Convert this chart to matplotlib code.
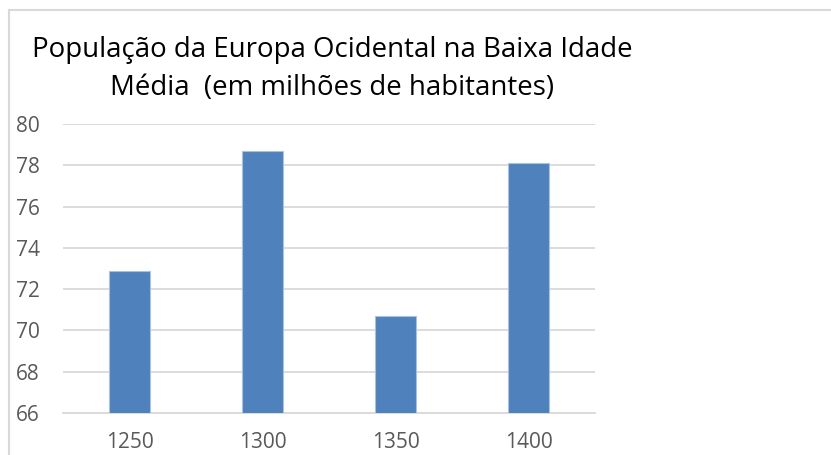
import matplotlib.pyplot as plt
from matplotlib.lines import Line2D

years = ["1250", "1300", "1350", "1400"]
population = [72.9, 78.7, 70.7, 78.1]
yticks = [66, 68, 70, 72, 74, 76, 78, 80]

W, H = 831, 455
plt.rcParams['font.family'] = ['Open Sans', 'DejaVu Sans']

fig = plt.figure(figsize=(W / 100, H / 100), dpi=100)
ax = fig.add_axes([63 / W, 1 - 413 / H, (595 - 63) / W, (413 - 124) / H])

ax.bar(range(len(years)), population, width=0.315, bottom=0,
       color="#4f81bd", edgecolor="#a9c2e0", linewidth=0.8, zorder=3)

ax.set_ylim(66, 80)
ax.set_xlim(-0.5, len(years) - 0.5)
ax.set_yticks(yticks)
ax.set_xticks(range(len(years)))
ax.set_xticklabels(years)
ax.yaxis.grid(True, color="#d9d9d9", linewidth=1.3, zorder=0)
ax.tick_params(length=0, labelsize=15, labelcolor="#595959")
ax.tick_params(axis="y", pad=16.5)
ax.tick_params(axis="x", pad=14)
for s in ["top", "right", "left"]:
    ax.spines[s].set_visible(False)
ax.spines["bottom"].set_color("#d9d9d9")
ax.spines["bottom"].set_linewidth(1.3)

# outer chart border (only top and left visible)
fig.add_artist(Line2D([8.5 / W, 8.5 / W], [0, 1 - 10 / H], color="#d9d9d9", lw=1.5))
fig.add_artist(Line2D([8.5 / W, 1], [1 - 10 / H, 1 - 10 / H], color="#d9d9d9", lw=1.5))

fig.text(332 / W, 1 - 69 / H,
         "População da Europa Ocidental na Baixa Idade\nMédia  (em milhões de habitantes)",
         ha="center", va="center", fontsize=19.9, color="#000000", linespacing=1.5)

fig.savefig("out.png", dpi=100)
